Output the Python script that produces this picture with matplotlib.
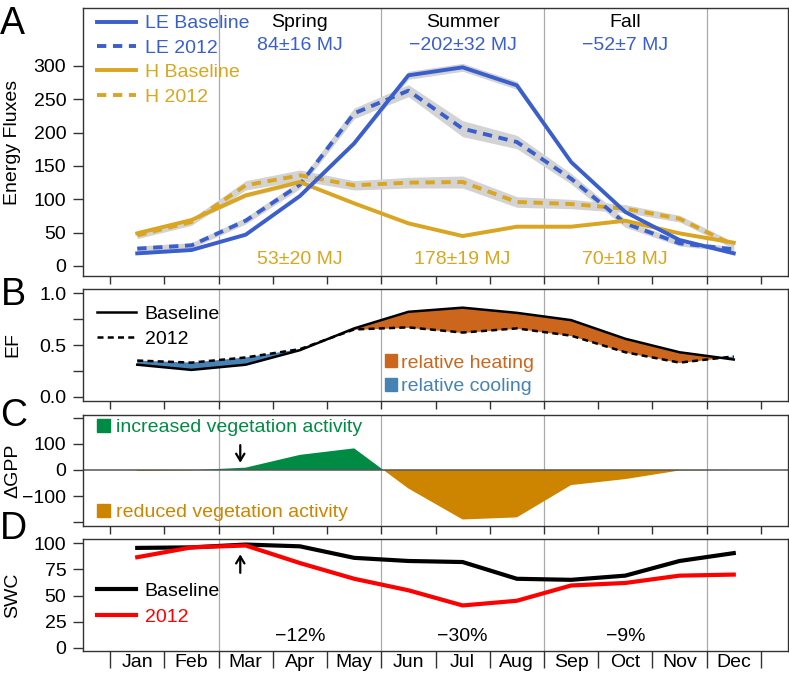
import numpy as np
import matplotlib
matplotlib.use('Agg')
import matplotlib.pyplot as plt
from matplotlib.patches import Patch
from matplotlib.lines import Line2D

plt.rcParams['font.family'] = ['Liberation Sans', 'DejaVu Sans']
plt.rcParams['axes.unicode_minus'] = True

months = ['Jan', 'Feb', 'Mar', 'Apr', 'May', 'Jun', 'Jul', 'Aug', 'Sep', 'Oct', 'Nov', 'Dec']

# panel A: energy fluxes
le_base = [19, 24, 47, 105, 184, 286, 298, 271, 156, 81, 39, 19]
le_2012 = [26, 31, 68, 122, 229, 263, 206, 186, 131, 64, 34, 25]
h_base = [49, 69, 106, 126, 94, 64, 45, 59, 59, 68, 49, 35]
h_2012 = [46, 66, 121, 136, 121, 125, 126, 96, 93, 86, 71, 31]
le_base_unc = [2, 2, 2, 2, 3, 6, 6, 6, 3, 2, 2, 2]
le_2012_unc = [4, 4, 5, 6, 8, 9, 12, 10, 8, 6, 4, 4]
h_base_unc = [4, 3, 3, 3, 2, 2, 2, 2, 2, 2, 2, 2]
h_2012_unc = [5, 5, 7, 8, 7, 8, 9, 8, 7, 6, 5, 5]
seasons = ['Spring', 'Summer', 'Fall']
season_mid = ['Apr', 'Jul', 'Oct']
le_diff = ['84±16 MJ', '\u2212202±32 MJ', '\u221252±7 MJ']
h_diff = ['53±20 MJ', '178±19 MJ', '70±18 MJ']

# panel B: evaporative fraction
ef_base = [0.31, 0.26, 0.31, 0.45, 0.66, 0.82, 0.86, 0.81, 0.74, 0.56, 0.43, 0.36]
ef_2012 = [0.35, 0.33, 0.38, 0.46, 0.65, 0.67, 0.62, 0.66, 0.59, 0.43, 0.33, 0.39]

# panel C: GPP anomaly
dgpp = [-4, -1, 9, 58, 83, -71, -190, -182, -58, -35, -2, 0]

# panel D: soil water content
swc_base = [95.5, 96, 98.7, 97, 86, 83, 82, 66, 65, 69, 83, 90.5]
swc_2012 = [86.6, 96, 97.8, 81, 66, 55, 40.5, 45, 59.6, 62, 69, 70]
swc_change = ['\u221212%', '\u221230%', '\u22129%']

blue = '#3A5FCD'
gold = '#DAA520'
heat = '#CD661D'
cool = '#4682B4'
green = '#008B45'
brown = '#CD8500'
band = '#D3D3D3'
frame = '#333333'
FS = 14

x = np.arange(len(months))
mid = [months.index(m) for m in season_mid]

W, H = 789, 675
fig = plt.figure(figsize=(W / 100, H / 100), dpi=100)


def box(top, bottom):
    return [83 / W, 1 - bottom / H, 705 / W, (bottom - top) / H]


axA = fig.add_axes(box(8, 276))
axB = fig.add_axes(box(289, 401))
axC = fig.add_axes(box(415, 526))
axD = fig.add_axes(box(539, 651))

for ax in (axA, axB, axC, axD):
    ax.set_xlim(-1, 12)
    for s in ax.spines.values():
        s.set_color(frame)
        s.set_linewidth(1.0)
    for b in (1.5, 4.5, 7.5, 10.5):
        ax.axvline(b, color='#AAAAAA', lw=0.9, zorder=0)
    ax.set_xticks(np.arange(-0.5, 12, 1))
    ax.set_xticklabels([])
    ax.tick_params(axis='x', direction='out', length=6, width=1, color=frame)
    ax.tick_params(axis='y', direction='out', length=7, width=1, color=frame,
                   labelsize=FS, pad=5)

leg_kw = dict(loc='upper left', frameon=False, fontsize=FS, borderpad=0, borderaxespad=0)

# ---- A
ds = (2.4, 1.7)
seriesA = [(h_2012, h_2012_unc, gold, True), (le_2012, le_2012_unc, blue, True),
           (h_base, h_base_unc, gold, False), (le_base, le_base_unc, blue, False)]
for y, u, c, dash in seriesA:
    y = np.array(y, float)
    u = np.array(u, float)
    axA.fill_between(x, y - u, y + u, color=band, lw=0, zorder=1)
for y, u, c, dash in seriesA:
    ln, = axA.plot(x, y, color=c, lw=2.8, zorder=3)
    if dash:
        ln.set_dashes(ds)
axA.set_ylim(-15, 387)
axA.set_yticks(np.arange(0, 301, 50))
handles = [Line2D([], [], color=blue, lw=2.8), Line2D([], [], color=blue, lw=2.8, dashes=ds),
           Line2D([], [], color=gold, lw=2.8), Line2D([], [], color=gold, lw=2.8, dashes=ds)]
axA.legend(handles, ['LE Baseline', 'LE 2012', 'H Baseline', 'H 2012'],
           bbox_to_anchor=(0.02, 0.975), labelcolor='linecolor',
           handlelength=2.0, handletextpad=0.45, labelspacing=0.35, **leg_kw)
for i, m in enumerate(mid):
    axA.text(m, 365, seasons[i], ha='center', va='center', fontsize=FS, color='black')
    axA.text(m, 331, le_diff[i], ha='center', va='center', fontsize=FS, color=blue)
    axA.text(m, 9, h_diff[i], ha='center', va='center', fontsize=FS, color=gold)

# ---- B
eb = np.array(ef_base)
e12 = np.array(ef_2012)
axB.fill_between(x, eb, e12, where=eb >= e12, interpolate=True, color=heat, lw=0)
axB.fill_between(x, eb, e12, where=eb <= e12, interpolate=True, color=cool, lw=0)
axB.plot(x, eb, color='black', lw=1.8)
axB.plot(x, e12, color='black', lw=1.8, dashes=(2.4, 1.7))
axB.set_ylim(-0.04, 1.04)
axB.set_yticks([0, 0.25, 0.5, 0.75, 1.0])
axB.set_yticklabels(['0.0', '', '0.5', '', '1.0'])
legB = axB.legend([Line2D([], [], color='black', lw=1.8),
                   Line2D([], [], color='black', lw=1.8, dashes=(2.4, 1.7))],
                  ['Baseline', '2012'], bbox_to_anchor=(0.02, 0.857),
                  handlelength=2.0, handletextpad=0.45, labelspacing=0.39, **leg_kw)
axB.add_artist(legB)
axB.legend([Patch(color=heat), Patch(color=cool)], ['relative heating', 'relative cooling'],
           bbox_to_anchor=(0.428, 0.416), labelcolor=[heat, cool],
           handlelength=0.65, handleheight=0.65, handletextpad=0.2, labelspacing=0.33, **leg_kw)

# ---- C
g = np.array(dgpp, float)
axC.fill_between(x, 0, g, where=g >= 0, interpolate=True, color=green, lw=0)
axC.fill_between(x, 0, g, where=g <= 0, interpolate=True, color=brown, lw=0)
axC.axhline(0, color='#555555', lw=1.1)
axC.set_ylim(-215, 211)
axC.set_yticks([-200, -100, 0, 100, 200])
axC.set_yticklabels(['', '\u2212100', '0', '100', ''])
legC = axC.legend([Patch(color=green)], ['increased vegetation activity'],
                  bbox_to_anchor=(0.02, 0.967), labelcolor=[green],
                  handlelength=0.65, handleheight=0.65, handletextpad=0.3, **leg_kw)
axC.add_artist(legC)
axC.legend([Patch(color=brown)], ['reduced vegetation activity'],
           bbox_to_anchor=(0.02, 0.2), labelcolor=[brown],
           handlelength=0.65, handleheight=0.65, handletextpad=0.3, **leg_kw)
arrow = dict(arrowstyle='->,head_length=0.5,head_width=0.3', lw=1.6, color='black')
axC.annotate('', xy=(1.9, 17), xytext=(1.9, 106), arrowprops=arrow)

# ---- D
lb, = axD.plot(x, swc_base, color='black', lw=3)
l12, = axD.plot(x, swc_2012, color='red', lw=3)
axD.set_ylim(-3, 104)
axD.set_yticks([0, 25, 50, 75, 100])
axD.legend([lb, l12], ['Baseline', '2012'], bbox_to_anchor=(0.02, 0.616),
           labelcolor='linecolor', handlelength=2.0, handletextpad=0.45,
           labelspacing=0.44, **leg_kw)
axD.annotate('', xy=(1.9, 92), xytext=(1.9, 69), arrowprops=arrow)
for i, m in enumerate(mid):
    axD.text(m, 10.5, swc_change[i], ha='center', va='center', fontsize=FS)
axD.tick_params(axis='x', which='major', length=12)
axD.set_xticks(x, minor=True)
axD.set_xticklabels(months, minor=True)
axD.tick_params(axis='x', which='minor', length=0, labelsize=FS, pad=2)

# labels
for name, top, bottom in [('Energy Fluxes', 8, 276), ('EF', 289, 401),
                          ('\u0394GPP', 415, 526), ('SWC', 539, 651)]:
    fig.text(13 / W, 1 - (top + bottom) / 2 / H, name, rotation=90, ha='center', va='center',
             fontsize=FS)
for name, px, py in [('A', 12, 24), ('B', 13, 295), ('C', 14, 416), ('D', 13, 529)]:
    fig.text(px / W, 1 - py / H, name, ha='center', va='center', fontsize=27)

fig.savefig('out.png', dpi=100)
